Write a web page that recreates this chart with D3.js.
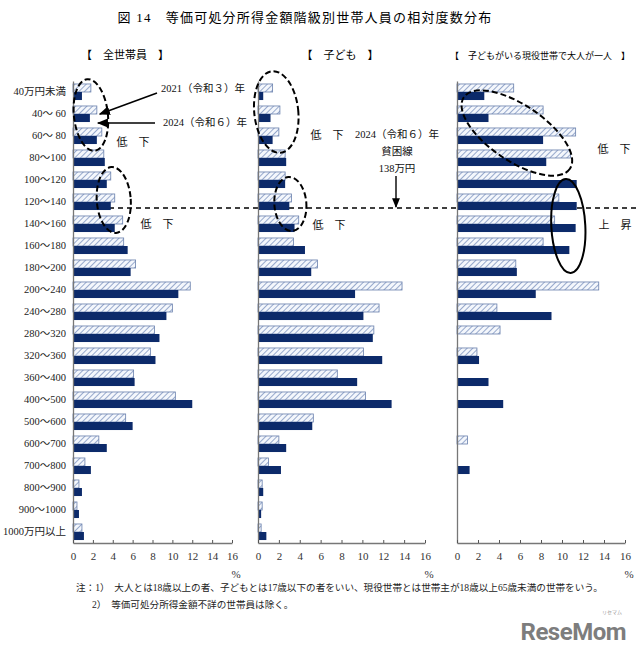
<!DOCTYPE html>
<html>
<head>
<meta charset="utf-8">
<script src="https://cdn.jsdelivr.net/npm/d3@7"></script>
<style>
  body { margin: 0; background: #fff; }
  svg { display: block; }
</style>
</head>
<body>
<svg id="chart"></svg>
<script>
// 所得階級（万円）
const categories = ["40万円未満", "40～ 60", "60～ 80", "80～100", "100～120", "120～140", "140～160",
  "160～180", "180～200", "200～240", "240～280", "280～320", "320～360", "360～400",
  "400～500", "500～600", "600～700", "700～800", "800～900", "900～1000", "1000万円以上"];

// 全世帯員（%）
const all2021 = [1.8, 2.4, 2.9, 3.1, 3.8, 4.2, 5.0, 5.1, 6.3, 11.8, 10.0, 8.2, 7.8, 6.1, 10.3, 5.3, 2.6, 1.2, 0.6, 0.4, 0.9];
const all2024 = [0.9, 1.7, 2.4, 3.2, 3.4, 3.8, 4.2, 5.5, 5.8, 10.6, 9.4, 8.7, 8.3, 6.2, 12.0, 6.0, 3.4, 1.8, 0.9, 0.6, 1.1];
// 子ども（%）
const child2021 = [1.4, 2.1, 2.0, 2.6, 2.6, 3.2, 3.9, 3.4, 5.7, 13.8, 11.6, 11.1, 10.1, 7.6, 10.3, 5.3, 2.0, 1.0, 0.4, 0.4, 0.3];
const child2024 = [0.5, 1.2, 1.4, 2.7, 2.6, 3.0, 3.5, 4.5, 5.1, 9.3, 10.1, 11.0, 11.9, 9.5, 12.8, 5.2, 2.7, 2.2, 0.5, 0.3, 0.8];
// 子どもがいる現役世帯で大人が一人（%）
const single2021 = [5.4, 8.2, 11.3, 10.8, 7.0, 9.7, 9.3, 8.2, 5.6, 13.5, 3.8, 4.1, 1.9, 0, 0, 0, 1.0, 0, 0, 0, 0];
const single2024 = [2.6, 3.0, 8.2, 8.5, 11.4, 11.4, 11.3, 10.7, 5.7, 7.5, 9.0, 0, 2.1, 3.0, 4.4, 0, 0, 1.2, 0, 0, 0];

const years = ["2021", "2024"];
const xTicks = [0, 2, 4, 6, 8, 10, 12, 14, 16];
const panelTitles = ["【　全世帯員　】", "【　子ども　】", "【　子どもがいる現役世帯で大人が一人　】"];

const width = 640, height = 646;
const serif = '"Liberation Serif", "Noto Sans CJK JP", serif';
const navy = "#0c2a6a";

const svg = d3.select("#chart")
  .attr("width", width)
  .attr("height", height)
  .attr("viewBox", [0, 0, width, height])
  .attr("font-family", serif);

// 斜線パターン
const defs = svg.append("defs");
const pat = defs.append("pattern")
  .attr("id", "hatch")
  .attr("patternUnits", "userSpaceOnUse")
  .attr("width", 4).attr("height", 4)
  .attr("patternTransform", "rotate(45)");
pat.append("rect").attr("width", 4).attr("height", 4).attr("fill", "#f4f7fc");
pat.append("line").attr("x1", 0).attr("y1", 0).attr("x2", 0).attr("y2", 4)
  .attr("stroke", "#7f95c0").attr("stroke-width", 1.6);

const arrowM = defs.append("marker")
  .attr("id", "arrow").attr("viewBox", "0 0 10 10")
  .attr("refX", 9).attr("refY", 5)
  .attr("markerWidth", 7).attr("markerHeight", 7)
  .attr("orient", "auto-start-reverse");
arrowM.append("path").attr("d", "M0,1 L10,5 L0,9 Z").attr("fill", "#000");

// タイトル
svg.append("text")
  .attr("x", 305).attr("y", 22)
  .attr("text-anchor", "middle")
  .attr("font-size", 13)
  .attr("letter-spacing", 1.2)
  .text("図 14　等価可処分所得金額階級別世帯人員の相対度数分布");

// 縦軸（階級）
const y = d3.scaleBand(categories, [81, 543]).paddingInner(0.27).paddingOuter(0.135);
const ySub = d3.scaleBand(years, [0, y.bandwidth()]);

const panels = [
  { title: panelTitles[0], v21: all2021, v24: all2024, range: [73, 232], tx: 125, fs: 11 },
  { title: panelTitles[1], v21: child2021, v24: child2024, range: [258, 425], tx: 340, fs: 11 },
  { title: panelTitles[2], v21: single2021, v24: single2024, range: [457, 625], tx: 540, fs: 9 }
];
panels.forEach(p => { p.x = d3.scaleLinear([0, 16], p.range); });

// 貧困線（138万円）
const povY = y("120～140") + y.bandwidth() * 0.875;
svg.append("line")
  .attr("x1", panels[0].range[0]).attr("x2", 638)
  .attr("y1", povY).attr("y2", povY)
  .attr("stroke", "#000").attr("stroke-width", 1.5)
  .attr("stroke-dasharray", "5,4");

panels.forEach((p, pi) => {
  const g = svg.append("g");
  const rows = categories.map((c, i) => ({ c, v21: p.v21[i], v24: p.v24[i] }));

  g.append("text")
    .attr("x", p.tx).attr("y", 59)
    .attr("text-anchor", "middle")
    .attr("font-size", p.fs)
    .text(p.title);

  // 2021年（斜線）
  g.append("g").selectAll("rect")
    .data(rows.filter(d => d.v21 > 0))
    .join("rect")
      .attr("x", p.x(0))
      .attr("y", d => y(d.c) + ySub("2021"))
      .attr("width", d => p.x(d.v21) - p.x(0))
      .attr("height", ySub.bandwidth())
      .attr("fill", "url(#hatch)")
      .attr("stroke", "#6a80ad")
      .attr("stroke-width", 0.8);

  // 2024年（塗りつぶし）
  g.append("g").selectAll("rect")
    .data(rows.filter(d => d.v24 > 0))
    .join("rect")
      .attr("x", p.x(0))
      .attr("y", d => y(d.c) + ySub("2024"))
      .attr("width", d => p.x(d.v24) - p.x(0))
      .attr("height", ySub.bandwidth())
      .attr("fill", navy);

  // 縦軸線
  const yAxis = g.append("g")
    .attr("transform", `translate(${p.x(0)},0)`)
    .call(d3.axisLeft(y).tickSize(0).tickPadding(7))
    .call(a => a.select(".domain").attr("stroke", "#777").attr("stroke-width", 1.3));
  yAxis.selectAll(".tick text")
    .attr("font-size", 10.5)
    .attr("font-family", serif)
    .attr("fill", "#222")
    .style("display", pi === 0 ? null : "none");

  // 横軸
  g.append("g")
    .attr("transform", `translate(0,543)`)
    .call(d3.axisBottom(p.x).tickValues(xTicks).tickSize(-3).tickPadding(9).tickSizeOuter(0))
    .call(a => a.select(".domain").attr("stroke", "#777").attr("stroke-width", 1.3))
    .call(a => a.selectAll(".tick line").attr("stroke", "#555"))
    .call(a => a.selectAll(".tick text")
      .attr("font-size", 11).attr("font-family", serif).attr("fill", "#333"));

  g.append("text")
    .attr("x", p.x(16) + 4).attr("y", 578)
    .attr("text-anchor", "middle")
    .attr("font-size", 11).attr("fill", "#333")
    .text("%");
});

// 注釈用の楕円
const ann = svg.append("g").attr("fill", "none").attr("stroke", "#000").attr("stroke-width", 2);
const x1 = panels[0].x, x2 = panels[1].x, x3 = panels[2].x;
const rowMid = c => y(c) + y.bandwidth() / 2;

function ellipse(cx, cy, rx, ry, rot, dashed) {
  ann.append("ellipse")
    .attr("cx", cx).attr("cy", cy).attr("rx", rx).attr("ry", ry)
    .attr("transform", `rotate(${rot},${cx},${cy})`)
    .attr("stroke-dasharray", dashed ? "6,3" : null);
}
ellipse(x1(1.8), rowMid("40～ 60") + 1, 17, 36, -6, true);
ellipse(x1(4.1), rowMid("120～140") - 2, 17, 33, -4, true);
ellipse(x2(1.75), rowMid("40～ 60") - 2, 22, 41, -6, true);
ellipse(x2(3.1), rowMid("120～140") + 2, 16, 27, -4, true);
ellipse(x3(5.7), rowMid("60～ 80") - 3, 64, 28, 34, true);
ellipse(x3(10.6), rowMid("140～160") + 2, 17, 47, -3, false);

// 矢印とラベル
const lab = svg.append("g").attr("font-size", 10.5).attr("fill", "#111");
lab.append("line")
  .attr("x1", 157).attr("y1", 93).attr("x2", x1(2.7)).attr("y2", rowMid("40～ 60"))
  .attr("stroke", "#000").attr("stroke-width", 1.6).attr("marker-end", "url(#arrow)");
lab.append("line")
  .attr("x1", 155).attr("y1", 123).attr("x2", x1(2.5)).attr("y2", rowMid("40～ 60") + 9)
  .attr("stroke", "#000").attr("stroke-width", 1.6).attr("marker-end", "url(#arrow)");
lab.append("text").attr("x", 161).attr("y", 92).text("2021（令和３）年");
lab.append("text").attr("x", 163).attr("y", 126).text("2024（令和６）年");

lab.append("text").attr("x", 133).attr("y", 146).attr("text-anchor", "middle").attr("font-size", 11).text("低　下");
lab.append("text").attr("x", 157).attr("y", 228).attr("text-anchor", "middle").attr("font-size", 11).text("低　下");
lab.append("text").attr("x", 327).attr("y", 139).attr("text-anchor", "middle").attr("font-size", 11).text("低　下");
lab.append("text").attr("x", 329).attr("y", 229).attr("text-anchor", "middle").attr("font-size", 11).text("低　下");
lab.append("text").attr("x", 614).attr("y", 153).attr("text-anchor", "middle").attr("font-size", 11).text("低　下");
lab.append("text").attr("x", 615).attr("y", 229).attr("text-anchor", "middle").attr("font-size", 11).text("上　昇");

lab.append("text").attr("x", 397).attr("y", 138).attr("text-anchor", "middle").text("2024（令和６）年");
lab.append("text").attr("x", 397).attr("y", 155).attr("text-anchor", "middle").text("貧困線");
lab.append("text").attr("x", 397).attr("y", 172).attr("text-anchor", "middle").text("138万円");
lab.append("line")
  .attr("x1", 396).attr("y1", 176).attr("x2", 396).attr("y2", povY - 1)
  .attr("stroke", "#000").attr("stroke-width", 1.4).attr("marker-end", "url(#arrow)");

// 注
const notes = svg.append("g").attr("font-size", 9.6).attr("fill", "#222");
notes.append("text").attr("x", 76).attr("y", 591)
  .text("注：1）　大人とは18歳以上の者、子どもとは17歳以下の者をいい、現役世帯とは世帯主が18歳以上65歳未満の世帯をいう。");
notes.append("text").attr("x", 92).attr("y", 608)
  .text("2）　等価可処分所得金額不詳の世帯員は除く。");

// ロゴ
svg.append("text")
  .attr("x", 626).attr("y", 640)
  .attr("text-anchor", "end")
  .attr("font-family", "Roboto, 'DejaVu Sans', sans-serif")
  .attr("font-weight", 700)
  .attr("font-size", 24)
  .attr("fill", "#7d7d7d")
  .attr("letter-spacing", -0.5)
  .text("ReseMom");
svg.append("text")
  .attr("x", 612).attr("y", 614)
  .attr("text-anchor", "middle")
  .attr("font-family", "'Noto Sans CJK JP', sans-serif")
  .attr("font-size", 5)
  .attr("fill", "#999")
  .text("リセマム");
</script>
</body>
</html>
